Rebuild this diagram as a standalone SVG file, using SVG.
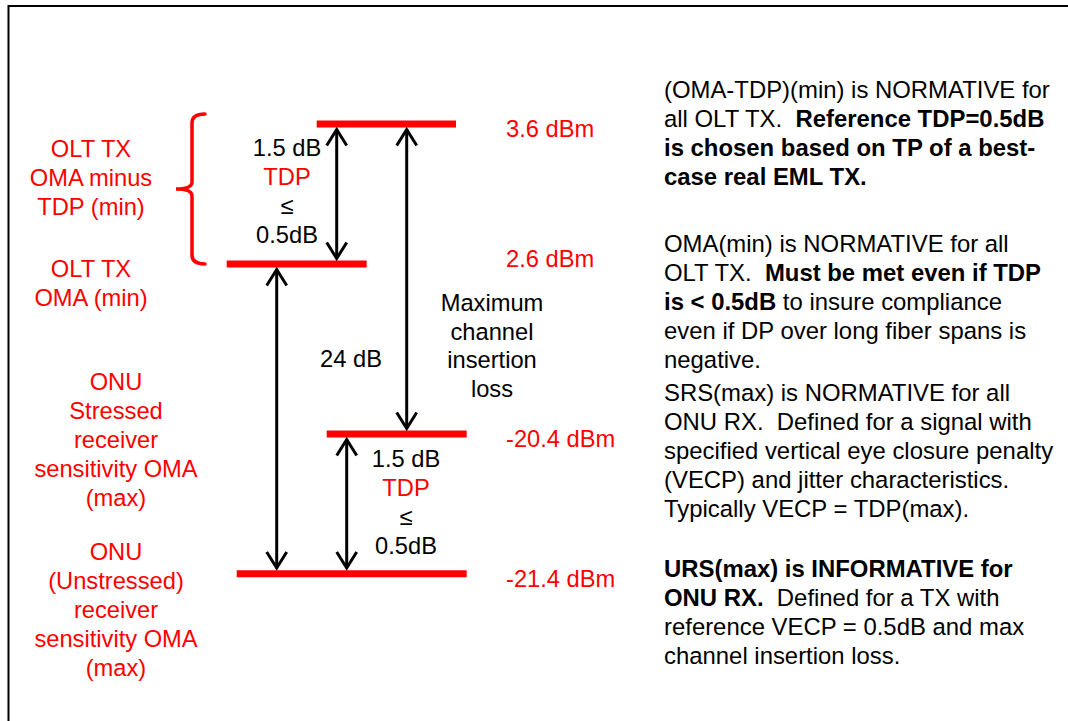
<svg xmlns="http://www.w3.org/2000/svg" width="1068" height="721" viewBox="0 0 1068 721">
  <style>
    .t { font-family: "Liberation Sans", Arial, "DejaVu Sans", sans-serif; font-size: 23.7px; fill: #000; }
    .n { font-size: 23.9px; }
    .red { fill: #ff0000; }
    .b { font-weight: bold; }
    .c { text-anchor: middle; }
    .bar { stroke: #ff0000; stroke-width: 7; }
    .arrow { stroke: #000; stroke-width: 3; fill: none; marker-start: url(#chev); marker-end: url(#chev); }
    .brace { stroke: #ff0000; stroke-width: 3.5; fill: none; stroke-linecap: round; }
  </style>
  <defs>
    <marker id="chev" viewBox="-20 -13 24 26" refX="0" refY="0" markerWidth="24" markerHeight="26" markerUnits="userSpaceOnUse" orient="auto-start-reverse">
      <path d="M -16 -10 L 0 0 L -16 10" fill="none" stroke="#000" stroke-width="3"/>
    </marker>
  </defs>

  <rect width="1068" height="721" fill="#fff"/>
  <!-- frame: only the top and left edges fall inside the page -->
  <rect x="8.5" y="6" width="1100" height="760" fill="none" stroke="#000" stroke-width="2"/>

  <!-- power levels -->
  <g id="level-3-6">
    <line class="bar" x1="316.7" y1="124" x2="456" y2="124"/>
    <text class="t red" x="506" y="137">3.6 dBm</text>
  </g>
  <g id="level-2-6">
    <line class="bar" x1="226.7" y1="264" x2="366.7" y2="264"/>
    <text class="t red" x="506" y="267">2.6 dBm</text>
  </g>
  <g id="level-m20-4">
    <line class="bar" x1="326.7" y1="434" x2="466.7" y2="434"/>
    <text class="t red" x="506" y="447">-20.4 dBm</text>
  </g>
  <g id="level-m21-4">
    <line class="bar" x1="236.7" y1="573.7" x2="466.7" y2="573.7"/>
    <text class="t red" x="506" y="587">-21.4 dBm</text>
  </g>

  <!-- left-hand parameter names -->
  <g id="label-oma-tdp">
    <text class="t red c" x="91" y="157">OLT TX</text>
    <text class="t red c" x="91" y="186">OMA minus</text>
    <text class="t red c" x="91" y="215">TDP (min)</text>
  </g>
  <g id="label-oma">
    <text class="t red c" x="91" y="277">OLT TX</text>
    <text class="t red c" x="91" y="306">OMA (min)</text>
  </g>
  <g id="label-srs">
    <text class="t red c" x="116" y="390">ONU</text>
    <text class="t red c" x="116" y="419">Stressed</text>
    <text class="t red c" x="116" y="448">receiver</text>
    <text class="t red c" x="116" y="477">sensitivity OMA</text>
    <text class="t red c" x="116" y="506">(max)</text>
  </g>
  <g id="label-urs">
    <text class="t red c" x="116" y="560">ONU</text>
    <text class="t red c" x="116" y="589">(Unstressed)</text>
    <text class="t red c" x="116" y="618">receiver</text>
    <text class="t red c" x="116" y="647">sensitivity OMA</text>
    <text class="t red c" x="116" y="676">(max)</text>
  </g>

  <!-- span annotations -->
  <g id="span-tdp-tx">
    <text class="t c" x="287" y="156">1.5 dB</text>
    <text class="t red c" x="287" y="185">TDP</text>
    <text class="t c" x="287" y="214">≤</text>
    <text class="t c" x="287" y="243">0.5dB</text>
  </g>
  <g id="span-24db">
    <text class="t c" x="351" y="367">24 dB</text>
  </g>
  <g id="span-channel">
    <text class="t c" x="492" y="311">Maximum</text>
    <text class="t c" x="492" y="340">channel</text>
    <text class="t c" x="492" y="368">insertion</text>
    <text class="t c" x="492" y="397">loss</text>
  </g>
  <g id="span-tdp-rx">
    <text class="t c" x="406" y="467">1.5 dB</text>
    <text class="t red c" x="406" y="496">TDP</text>
    <text class="t c" x="406" y="525">≤</text>
    <text class="t c" x="406" y="554">0.5dB</text>
  </g>

  <!-- notes -->
  <g id="note-oma-tdp">
    <text class="t n" x="664" y="98" xml:space="preserve">(OMA-TDP)(min) is NORMATIVE for</text>
    <text class="t n" x="664" y="127" xml:space="preserve">all OLT TX.  <tspan class="b">Reference TDP=0.5dB</tspan></text>
    <text class="t n b" x="664" y="156">is chosen based on TP of a best-</text>
    <text class="t n b" x="664" y="185">case real EML TX.</text>
  </g>
  <g id="note-oma">
    <text class="t n" x="664" y="252" xml:space="preserve">OMA(min) is NORMATIVE for all</text>
    <text class="t n" x="664" y="281" xml:space="preserve">OLT TX.  <tspan class="b">Must be met even if TDP</tspan></text>
    <text class="t n" x="664" y="310" xml:space="preserve"><tspan class="b">is &lt; 0.5dB</tspan> to insure compliance</text>
    <text class="t n" x="664" y="339">even if DP over long fiber spans is</text>
    <text class="t n" x="664" y="368">negative.</text>
  </g>
  <g id="note-srs">
    <text class="t n" x="664" y="401">SRS(max) is NORMATIVE for all</text>
    <text class="t n" x="664" y="430" xml:space="preserve">ONU RX.  Defined for a signal with</text>
    <text class="t n" x="664" y="459">specified vertical eye closure penalty</text>
    <text class="t n" x="664" y="488">(VECP) and jitter characteristics.</text>
    <text class="t n" x="664" y="517">Typically VECP = TDP(max).</text>
  </g>
  <g id="note-urs">
    <text class="t n b" x="664" y="577">URS(max) is INFORMATIVE for</text>
    <text class="t n" x="664" y="606" xml:space="preserve"><tspan class="b">ONU RX.</tspan>  Defined for a TX with</text>
    <text class="t n" x="664" y="635">reference VECP = 0.5dB and max</text>
    <text class="t n" x="664" y="664">channel insertion loss.</text>
  </g>

  <!-- connectors -->
  <g id="connectors">
    <path class="brace" d="M 205 114 Q 192 114 192 123 L 192 182 Q 192 189 176 189 Q 192 189 192 196 L 192 255 Q 192 264 205 264"/>
    <line class="arrow" x1="336.7" y1="129.5" x2="336.7" y2="258.5"/>
    <line class="arrow" x1="406.7" y1="129.5" x2="406.7" y2="428.5"/>
    <line class="arrow" x1="276.7" y1="269.5" x2="276.7" y2="568"/>
    <line class="arrow" x1="346.7" y1="439.5" x2="346.7" y2="568"/>
  </g>
</svg>
